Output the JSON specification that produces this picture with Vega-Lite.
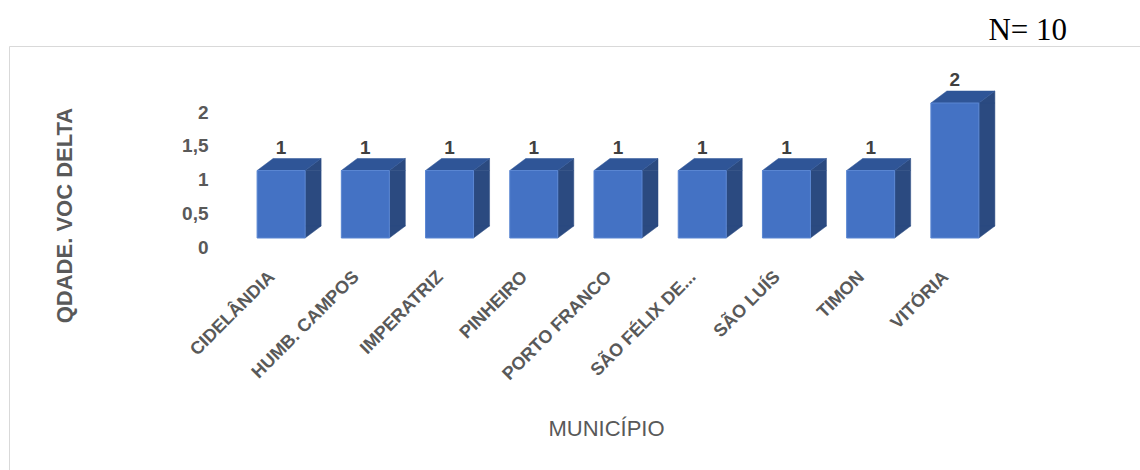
{
  "$schema": "https://vega.github.io/schema/vega-lite/v6.json",
  "width": 1132,
  "height": 424,
  "autosize": {"type": "none"},
  "padding": {"left": 9, "top": 46, "right": 0, "bottom": 0},
  "background": "white",
  "config": {
    "view": {"stroke": "#D9D9D9", "strokeWidth": 1},
    "font": "Liberation Sans"
  },
  "title": {
    "text": "N= 10",
    "anchor": "end",
    "font": "Liberation Serif",
    "fontSize": 31,
    "fontWeight": "normal",
    "color": "#000000",
    "dx": -74,
    "dy": 31,
    "offset": 6,
    "baseline": "alphabetic"
  },
  "data": {
    "values": [
      {"municipio": "CIDELÂNDIA", "qtd": 1},
      {"municipio": "HUMB. CAMPOS", "qtd": 1},
      {"municipio": "IMPERATRIZ", "qtd": 1},
      {"municipio": "PINHEIRO", "qtd": 1},
      {"municipio": "PORTO FRANCO", "qtd": 1},
      {"municipio": "SÃO FÉLIX DE...", "qtd": 1},
      {"municipio": "SÃO LUÍS", "qtd": 1},
      {"municipio": "TIMON", "qtd": 1},
      {"municipio": "VITÓRIA", "qtd": 2}
    ]
  },
  "encoding": {
    "x": {
      "field": "municipio",
      "type": "nominal",
      "sort": null,
      "scale": {"range": [230, 988], "paddingInner": 0, "paddingOuter": 0},
      "axis": {
        "title": "MUNICÍPIO",
        "domain": false,
        "ticks": false,
        "tickSize": 0,
        "grid": false,
        "offset": -232,
        "labelAngle": -45,
        "labelAlign": "right",
        "labelBaseline": "middle",
        "labelPadding": 36,
        "labelOffset": -9,
        "labelFont": "Liberation Sans",
        "labelFontSize": 18,
        "labelFontWeight": "bold",
        "labelColor": "#595959",
        "labelLimit": 0,
        "titleFont": "Liberation Sans",
        "titleFontSize": 22,
        "titleFontWeight": "normal",
        "titleColor": "#595959",
        "titleX": 597,
        "titleY": 197,
        "titleBaseline": "alphabetic",
        "titleAlign": "center"
      }
    },
    "y": {
      "field": "qtd",
      "type": "quantitative",
      "scale": {"domain": [0, 2], "range": [192, 57], "nice": false},
      "axis": {
        "title": "QDADE. VOC DELTA",
        "values": [0, 0.5, 1, 1.5, 2],
        "labelExpr": "replace(toString(datum.value), '.', ',')",
        "domain": false,
        "ticks": false,
        "tickSize": 0,
        "grid": false,
        "offset": -230,
        "labelPadding": 31,
        "labelOffset": 9,
        "labelFont": "Liberation Sans",
        "labelFontSize": 19,
        "labelFontWeight": "bold",
        "labelColor": "#595959",
        "titleFont": "Liberation Sans",
        "titleFontSize": 22,
        "titleFontWeight": "bold",
        "titleColor": "#595959",
        "titleAngle": -90,
        "titleX": -168,
        "titleY": 169,
        "titleBaseline": "alphabetic",
        "titleAlign": "center"
      }
    }
  },
  "layer": [
    {
      "mark": {"type": "bar", "width": 16, "xOffset": 32, "y2Offset": -12, "color": "#2B4A80", "stroke": "#2B4A80", "strokeWidth": 0.5},
      "encoding": {"y2": {"datum": 0}}
    },
    {
      "mark": {"type": "point", "shape": "M24,0L40,-12L40,0Z", "size": 4, "filled": true, "opacity": 1, "color": "#2B4A80", "stroke": "#2B4A80", "strokeWidth": 0.5}
    },
    {
      "mark": {"type": "point", "shape": "M24,-12L40,-12L24,0Z", "size": 4, "filled": true, "opacity": 1, "color": "#2B4A80", "stroke": "#2B4A80", "strokeWidth": 0.5},
      "encoding": {"y": {"datum": 0, "type": "quantitative"}}
    },
    {
      "mark": {"type": "point", "shape": "M-24,0L24,0L40,-12L-8,-12Z", "size": 4, "filled": true, "opacity": 1, "color": "#2F5597", "stroke": "#2F5597", "strokeWidth": 0.5}
    },
    {
      "mark": {"type": "bar", "width": {"band": 0.57}, "color": "#4472C4", "stroke": "#5A86D2", "strokeWidth": 1}
    },
    {
      "mark": {"type": "text", "dy": -17, "baseline": "alphabetic", "font": "Liberation Sans", "fontSize": 19, "fontWeight": "bold", "color": "#404040"},
      "encoding": {"text": {"field": "qtd", "type": "quantitative"}}
    }
  ]
}
